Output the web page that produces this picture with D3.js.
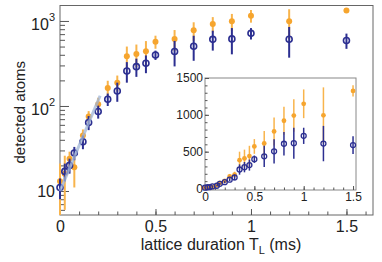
<!DOCTYPE html>
<html lang="en">
<head>
  <meta charset="UTF-8">
  <title>Detected atoms vs lattice duration</title>
  <script src="https://d3js.org/d3.v7.min.js"></script>
  <style>
    body { margin: 0; background: #fff; }
    svg { display: block; font-family: "Liberation Sans", Arial, sans-serif; }
    .axis path { display: none; }
    .axis line { stroke: #555; }
  </style>
</head>
<body>
  <div id="chart"></div>

  <script>
    // lattice duration T_L (ms)
    const duration = [0, 0.025, 0.05, 0.075, 0.12, 0.15, 0.2, 0.25, 0.3, 0.35, 0.4, 0.45, 0.5, 0.6, 0.7, 0.8, 0.9, 1.0, 1.2, 1.5];

    // filled orange points and their errors
    const orangeAtoms = [13, 16, 24, 19, 45, 75, 105, 163, 188, 385, 408, 440, 571, 612, 775, 920, 990, 1150, 993, 1325];
    const orangeErr = [8, 10, 5, 8, 8, 12, 20, 35, 40, 115, 120, 140, 100, 170, 190, 190, 220, 195, 380, 75];

    // open blue points and their errors
    const blueAtoms = [11, 17, 20, 28, 38, 64, 86, 120, 150, 258, 290, 318, 398, 437, 505, 608, 615, 715, 610, 590];
    const blueErr = [3, 4, 4, 5, 7, 12, 15, 20, 38, 70, 70, 75, 50, 145, 165, 160, 210, 110, 240, 120];

    // exponential fit of the early growth (straight on the log axis)
    const fitT = [0, 0.21];
    const fitAtoms = [10, 132];

    // ticks
    const xMajor = [0, 0.5, 1, 1.5];
    const xLabels = ["0", "0.5", "1", "1.5"];
    const yMajor = [10, 100, 1000];
    const yBase = ["10", "10", "10"];
    const ySup = ["", "2", "3"];
    const insetYMajor = [0, 500, 1000, 1500];
    const insetYLabels = ["0", "500", "1000", "1500"];

    const orange = "#F6A52E", orangeBar = "#F8B44C";
    const blue = "#2C2F91";

    const width = 382, height = 262;
    const main = { left: 60, right: 373, top: 5.5, bottom: 215 };
    const inset = { left: 205, right: 356, top: 78, bottom: 190 };

    const svg = d3.select("#chart")
      .append("svg")
      .attr("width", width)
      .attr("height", height);

    const x = d3.scaleLinear().domain([0, 1.639]).range([main.left, main.right]);
    const y = d3.scaleLog().domain([5.22, 1520]).range([main.bottom, main.top]);

    const xi = d3.scaleLinear().domain([0, 1.53]).range([inset.left, inset.right]);
    const yi = d3.scaleLinear().domain([-20, 1500]).range([inset.bottom, inset.top]);

    // draws error bars then markers for one series
    function drawSeries(g, xs, ys, vals, errs, style) {
      const lo = ys.domain()[0], hi = ys.domain()[1];
      g.selectAll(null)
        .data(duration)
        .enter().append("line")
        .attr("x1", d => xs(d))
        .attr("x2", d => xs(d))
        .attr("y1", (d, i) => ys(Math.max(vals[i] - errs[i], lo)))
        .attr("y2", (d, i) => ys(Math.min(vals[i] + errs[i], hi)))
        .attr("stroke", style.bar)
        .attr("stroke-width", style.barWidth);

      g.selectAll(null)
        .data(duration)
        .enter().append("circle")
        .attr("cx", d => xs(d))
        .attr("cy", (d, i) => ys(vals[i]))
        .attr("r", style.r)
        .attr("fill", style.fill)
        .attr("stroke", style.stroke)
        .attr("stroke-width", style.strokeWidth);
    }

    // ---------- main plot ----------
    svg.append("rect")
      .attr("x", main.left).attr("y", main.top)
      .attr("width", main.right - main.left)
      .attr("height", main.bottom - main.top)
      .attr("fill", "none")
      .attr("stroke", "#666");

    // x axis: minor then major
    svg.append("g")
      .attr("class", "axis")
      .attr("transform", `translate(0,${main.bottom})`)
      .call(d3.axisBottom(x).tickValues(d3.range(0, 1.65, 0.1)).tickSize(-3.5).tickFormat(""));

    svg.append("g")
      .attr("class", "axis")
      .attr("transform", `translate(0,${main.bottom})`)
      .call(d3.axisBottom(x).tickValues(xMajor).tickSize(-6).tickPadding(6)
        .tickFormat((d, i) => xLabels[i]))
      .selectAll("text")
      .style("font-size", "16px")
      .attr("fill", "#222");

    // y axis: minor then major
    const yMinor = [];
    [1, 10, 100].forEach(dec => d3.range(2, 10).forEach(k => {
      const v = dec * k;
      if (v >= 5.22 && v <= 1520 && v !== 10 && v !== 100 && v !== 1000) yMinor.push(v);
    }));

    svg.append("g")
      .attr("class", "axis")
      .attr("transform", `translate(${main.left},0)`)
      .call(d3.axisLeft(y).tickValues(yMinor).tickSize(-5).tickFormat(""));

    const yAx = svg.append("g")
      .attr("class", "axis")
      .attr("transform", `translate(${main.left},0)`)
      .call(d3.axisLeft(y).tickValues(yMajor).tickSize(-9).tickPadding(5).tickFormat(""));

    yAx.selectAll(".tick text").each(function(d, i) {
      const t = d3.select(this)
        .style("font-size", "16px")
        .attr("fill", "#222")
        .attr("dy", ySup[i] ? "0.55em" : "0.33em");
      t.append("tspan").text(yBase[i]);
      if (ySup[i]) {
        t.append("tspan").text(ySup[i])
          .style("font-size", "11px")
          .attr("dy", "-0.85em");
      }
    });

    // axis titles
    svg.append("text")
      .attr("transform", `translate(25,${(main.top + main.bottom) / 2 + 2}) rotate(-90)`)
      .style("text-anchor", "middle")
      .style("font-size", "15px")
      .attr("fill", "#222")
      .text("detected atoms");

    const xTitle = svg.append("text")
      .attr("x", 221)
      .attr("y", 250)
      .style("text-anchor", "middle")
      .style("font-size", "16px")
      .attr("fill", "#222");
    xTitle.append("tspan").text("lattice duration T");
    xTitle.append("tspan").text("L").style("font-size", "11px").attr("dy", 4);
    xTitle.append("tspan").text(" (ms)").attr("dy", -4);

    const gMain = svg.append("g");
    drawSeries(gMain, x, y, orangeAtoms, orangeErr,
      { bar: orangeBar, barWidth: 2, r: 3, fill: orange, stroke: "none", strokeWidth: 0 });
    drawSeries(gMain, x, y, blueAtoms, blueErr,
      { bar: blue, barWidth: 2, r: 3, fill: "none", stroke: blue, strokeWidth: 1.6 });

    // fit line sits over the early points
    gMain.append("path")
      .datum(fitT)
      .attr("fill", "none")
      .attr("stroke", "#9FB4D6")
      .attr("stroke-width", 3)
      .attr("opacity", 0.75)
      .attr("d", d3.line().x(d => x(d)).y((d, i) => y(fitAtoms[i])));

    // ---------- inset ----------
    svg.append("rect")
      .attr("x", inset.left).attr("y", inset.top)
      .attr("width", inset.right - inset.left)
      .attr("height", inset.bottom - inset.top)
      .attr("fill", "#fff")
      .attr("stroke", "#888");

    svg.append("g")
      .attr("class", "axis")
      .attr("transform", `translate(0,${inset.bottom})`)
      .call(d3.axisBottom(xi).tickValues(d3.range(0, 1.55, 0.1)).tickSize(-2.5).tickFormat(""));

    svg.append("g")
      .attr("class", "axis")
      .attr("transform", `translate(0,${inset.bottom})`)
      .call(d3.axisBottom(xi).tickValues(xMajor).tickSize(-4).tickPadding(2)
        .tickFormat((d, i) => xLabels[i]))
      .selectAll("text")
      .style("font-size", "12px")
      .attr("fill", "#222");

    svg.append("g")
      .attr("class", "axis")
      .attr("transform", `translate(${inset.left},0)`)
      .call(d3.axisLeft(yi).tickValues(d3.range(0, 1501, 100)).tickSize(-2.5).tickFormat(""));

    svg.append("g")
      .attr("class", "axis")
      .attr("transform", `translate(${inset.left},0)`)
      .call(d3.axisLeft(yi).tickValues(insetYMajor).tickSize(-4).tickPadding(2)
        .tickFormat((d, i) => insetYLabels[i]))
      .selectAll("text")
      .style("font-size", "12px")
      .attr("fill", "#222");

    const gInset = svg.append("g");
    drawSeries(gInset, xi, yi, orangeAtoms, orangeErr,
      { bar: orangeBar, barWidth: 1.5, r: 2.4, fill: orange, stroke: "none", strokeWidth: 0 });
    drawSeries(gInset, xi, yi, blueAtoms, blueErr,
      { bar: blue, barWidth: 1.5, r: 2.5, fill: "none", stroke: blue, strokeWidth: 1.3 });
  </script>
</body>
</html>
